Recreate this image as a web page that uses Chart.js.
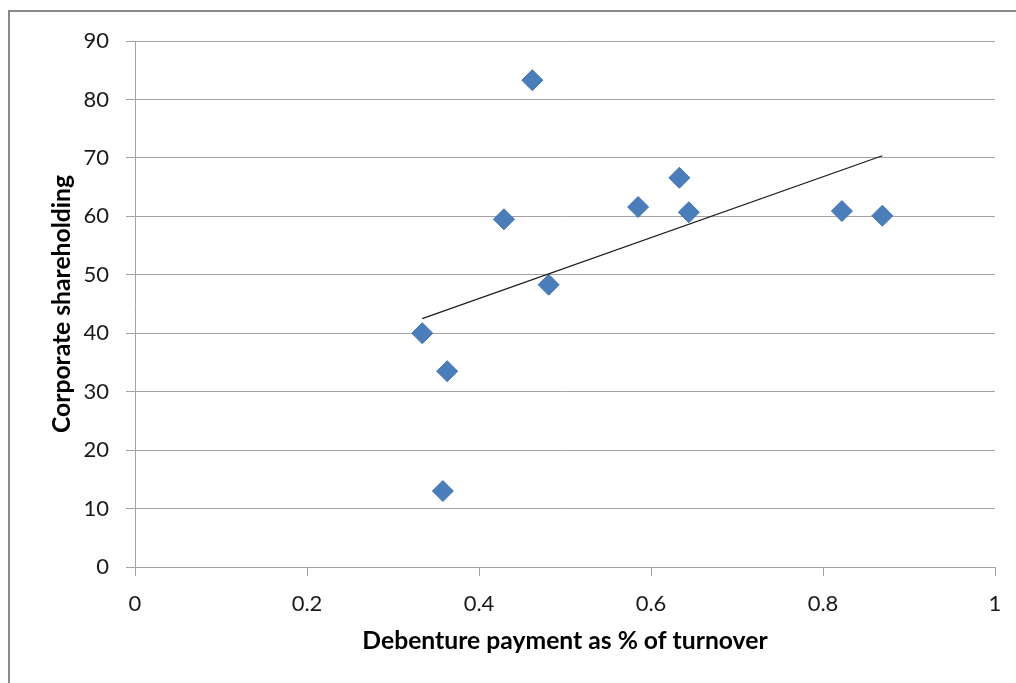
<!DOCTYPE html>
<html>
<head>
<meta charset="utf-8">
<script src="https://cdn.jsdelivr.net/npm/chart.js@4"></script>
<style>
  html, body { margin: 0; padding: 0; background: #ffffff; overflow: hidden; }
  #wrap { position: relative; width: 1016px; height: 683px; }
  #frame { position: absolute; left: 8px; top: 10px; width: 1100px; height: 800px; border: 2px solid #8a8a8a; box-sizing: border-box; pointer-events: none; }
  canvas { position: absolute; left: 0; top: 0; }
</style>
</head>
<body>
<div id="wrap">
  <div id="frame"></div>
  <canvas id="c" width="1016" height="683"></canvas>
</div>
<script>
// ---- data ----
const debenturePct = [0.462, 0.429, 0.334, 0.363, 0.358, 0.481, 0.585, 0.633, 0.644, 0.822, 0.869];
const corporateShare = [83.3, 59.5, 40.0, 33.5, 13.0, 48.3, 61.6, 66.6, 60.7, 60.9, 60.1];
const xTickLabels = ['0', '0.2', '0.4', '0.6', '0.8', '1'];
const yTickLabels = ['0', '10', '20', '30', '40', '50', '60', '70', '80', '90'];
const xTitle = 'Debenture payment as % of turnover';
const yTitle = 'Corporate shareholding';

// scatter points
const points = debenturePct.map((x, i) => ({ x: x, y: corporateShare[i] }));

// linear trendline (least squares) computed from the data
const n = debenturePct.length;
const mx = debenturePct.reduce((a, b) => a + b, 0) / n;
const my = corporateShare.reduce((a, b) => a + b, 0) / n;
let sxy = 0, sxx = 0;
for (let i = 0; i < n; i++) {
  sxy += (debenturePct[i] - mx) * (corporateShare[i] - my);
  sxx += (debenturePct[i] - mx) * (debenturePct[i] - mx);
}
const slope = sxy / sxx;
const intercept = my - slope * mx;
const xmin = Math.min(...debenturePct), xmax = Math.max(...debenturePct);
const trend = [{ x: xmin, y: intercept + slope * xmin }, { x: xmax, y: intercept + slope * xmax }];

const FONT = 'Lato, "Open Sans", "DejaVu Sans", sans-serif';
const gridCol = '#a3a3a3';
const titleSize = 24.7;

new Chart(document.getElementById('c'), {
  type: 'scatter',
  data: {
    datasets: [
      {
        type: 'line',
        label: 'Trend',
        data: trend,
        borderColor: '#1a1a1a',
        borderWidth: 1.2,
        pointRadius: 0,
        fill: false,
        order: 0
      },
      {
        label: yTitle,
        data: points,
        pointStyle: 'rectRot',
        pointRadius: 10.5,
        pointHoverRadius: 10.5,
        backgroundColor: '#4A7EBB',
        borderColor: '#4374B3',
        borderWidth: 1,
        order: 1
      }
    ]
  },
  options: {
    responsive: false,
    animation: false,
    devicePixelRatio: 1,
    layout: { padding: { left: 47, top: 41, right: 21, bottom: 27 } },
    plugins: { legend: { display: false }, tooltip: { enabled: false } },
    scales: {
      x: {
        type: 'linear',
        min: 0, max: 1,
        ticks: {
          stepSize: 0.2,
          padding: 15,
          color: '#1a1a1a',
          font: { family: FONT, size: 22 },
          maxRotation: 0,
          callback: (v, i) => xTickLabels[i]
        },
        grid: { drawOnChartArea: false, drawTicks: true, tickLength: 9, color: gridCol, lineWidth: 1 },
        border: { display: true, color: gridCol, width: 1 },
        title: { display: true, text: xTitle, color: '#000', padding: 0, font: { family: FONT, size: titleSize, weight: 'bold' } },
        afterFit: (s) => { s.height = 89; s.paddingLeft = 0; s.paddingRight = 0; }
      },
      y: {
        type: 'linear',
        min: 0, max: 90,
        ticks: {
          stepSize: 10,
          padding: 17,
          color: '#1a1a1a',
          font: { family: FONT, size: 22 },
          callback: (v, i) => yTickLabels[i]
        },
        grid: { drawOnChartArea: true, drawTicks: true, tickLength: 9, color: gridCol, lineWidth: 1 },
        border: { display: true, color: gridCol, width: 1 },
        title: { display: true, text: yTitle, color: '#000', padding: 0, font: { family: FONT, size: titleSize, weight: 'bold' } },
        afterFit: (s) => { s.width = 88; s.paddingTop = 0; s.paddingBottom = 0; }
      }
    }
  }
});
</script>
</body>
</html>
